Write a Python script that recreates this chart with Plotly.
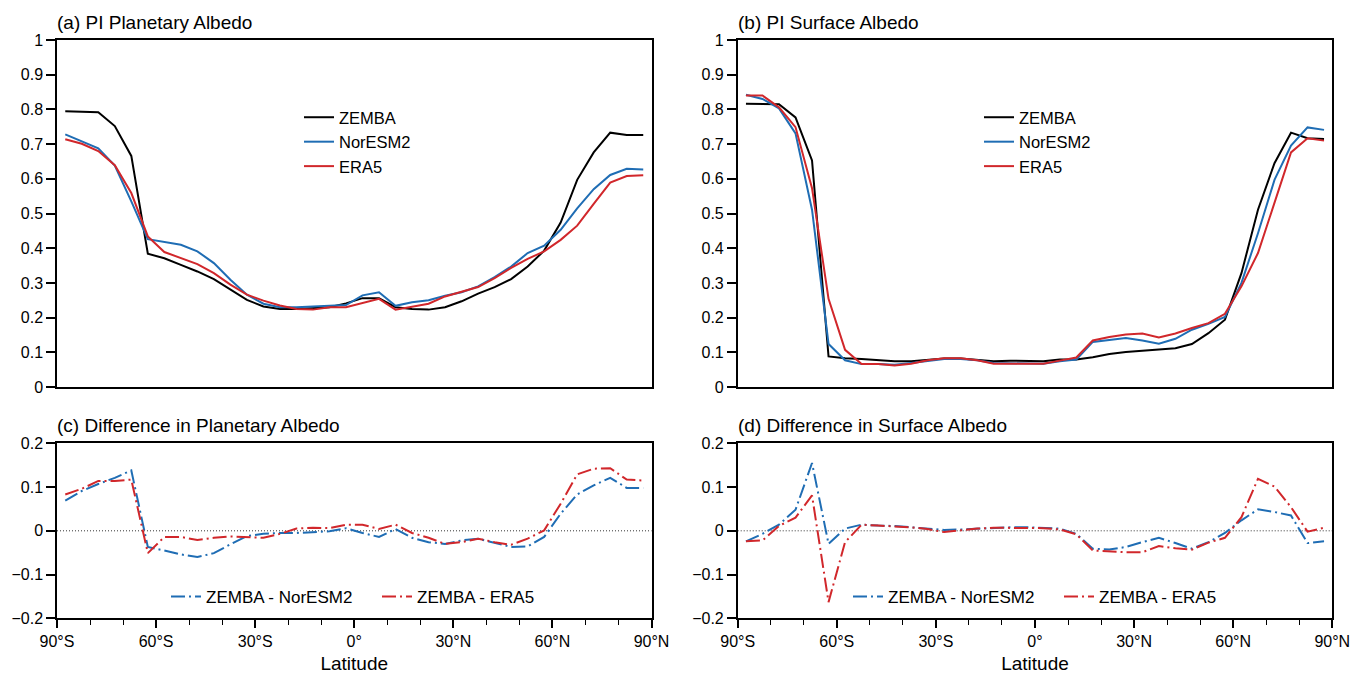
import plotly.graph_objects as go

lat = [-87.5, -82.5, -77.5, -72.5, -67.5, -62.5, -57.5, -52.5, -47.5, -42.5, -37.5, -32.5,
       -27.5, -22.5, -17.5, -12.5, -7.5, -2.5, 2.5, 7.5, 12.5, 17.5, 22.5, 27.5,
       32.5, 37.5, 42.5, 47.5, 52.5, 57.5, 62.5, 67.5, 72.5, 77.5, 82.5, 87.5]

# (a) planetary albedo
pa_zemba = [0.795, 0.794, 0.792, 0.752, 0.666, 0.384, 0.371, 0.352, 0.333, 0.311, 0.282, 0.251,
            0.232, 0.225, 0.225, 0.228, 0.230, 0.241, 0.256, 0.256, 0.230, 0.225, 0.223, 0.230,
            0.247, 0.269, 0.288, 0.311, 0.347, 0.393, 0.474, 0.597, 0.676, 0.733, 0.726, 0.726]
pa_noresm = [0.728, 0.707, 0.688, 0.638, 0.535, 0.426, 0.419, 0.410, 0.391, 0.357, 0.309, 0.266,
             0.240, 0.230, 0.230, 0.232, 0.232, 0.236, 0.264, 0.273, 0.234, 0.244, 0.250, 0.263,
             0.273, 0.290, 0.317, 0.347, 0.386, 0.407, 0.453, 0.515, 0.570, 0.611, 0.629, 0.627]
pa_era5 = [0.714, 0.701, 0.680, 0.639, 0.559, 0.434, 0.389, 0.371, 0.354, 0.328, 0.295, 0.266,
           0.249, 0.235, 0.225, 0.223, 0.230, 0.230, 0.242, 0.254, 0.223, 0.232, 0.240, 0.261,
           0.275, 0.288, 0.314, 0.343, 0.369, 0.391, 0.424, 0.465, 0.528, 0.589, 0.608, 0.610]

# (b) surface albedo
sa_zemba = [0.816, 0.816, 0.815, 0.777, 0.653, 0.088, 0.083, 0.081, 0.077, 0.074, 0.074, 0.079,
            0.082, 0.082, 0.079, 0.074, 0.076, 0.076, 0.074, 0.079, 0.079, 0.086, 0.095, 0.101,
            0.105, 0.107, 0.112, 0.124, 0.155, 0.194, 0.328, 0.511, 0.645, 0.733, 0.717, 0.715]
sa_noresm = [0.842, 0.830, 0.803, 0.731, 0.511, 0.124, 0.077, 0.066, 0.066, 0.064, 0.069, 0.076,
             0.081, 0.081, 0.077, 0.069, 0.069, 0.069, 0.067, 0.074, 0.079, 0.130, 0.136, 0.141,
             0.134, 0.125, 0.139, 0.165, 0.182, 0.202, 0.300, 0.443, 0.597, 0.696, 0.748, 0.741]
sa_era5 = [0.840, 0.840, 0.806, 0.749, 0.573, 0.254, 0.107, 0.066, 0.066, 0.062, 0.067, 0.077,
           0.083, 0.083, 0.077, 0.067, 0.067, 0.067, 0.067, 0.076, 0.085, 0.134, 0.144, 0.151,
           0.154, 0.143, 0.154, 0.170, 0.184, 0.211, 0.290, 0.386, 0.530, 0.676, 0.717, 0.710]

# (c) difference in planetary albedo
dp_noresm = [0.069, 0.091, 0.107, 0.121, 0.138, -0.037, -0.045, -0.054, -0.060, -0.051, -0.031, -0.012,
             -0.007, -0.005, -0.005, -0.003, -0.001, 0.006, -0.005, -0.014, 0.004, -0.016, -0.026, -0.030,
             -0.022, -0.018, -0.028, -0.037, -0.036, -0.014, 0.039, 0.083, 0.104, 0.121, 0.098, 0.098]
dp_era5 = [0.083, 0.096, 0.114, 0.114, 0.117, -0.051, -0.014, -0.014, -0.021, -0.016, -0.013, -0.014,
           -0.016, -0.007, 0.005, 0.007, 0.006, 0.014, 0.014, 0.004, 0.014, -0.005, -0.016, -0.030,
           -0.026, -0.018, -0.026, -0.032, -0.018, 0.001, 0.062, 0.129, 0.142, 0.143, 0.117, 0.115]

# (d) difference in surface albedo
ds_noresm = [-0.024, -0.007, 0.014, 0.048, 0.155, -0.030, 0.005, 0.014, 0.012, 0.011, 0.008, 0.005,
             0.002, 0.003, 0.005, 0.007, 0.008, 0.008, 0.007, 0.005, -0.007, -0.041, -0.043, -0.037,
             -0.026, -0.016, -0.028, -0.041, -0.026, -0.005, 0.024, 0.049, 0.043, 0.035, -0.028, -0.024]
ds_era5 = [-0.024, -0.022, 0.011, 0.030, 0.081, -0.163, -0.026, 0.014, 0.012, 0.010, 0.008, 0.004,
           -0.003, 0.001, 0.005, 0.007, 0.007, 0.007, 0.006, 0.003, -0.008, -0.045, -0.047, -0.049,
           -0.049, -0.035, -0.040, -0.043, -0.027, -0.016, 0.031, 0.119, 0.101, 0.054, -0.002, 0.007]

xtick_vals = [-90, -60, -30, 0, 30, 60, 90]
xtick_text = ["90°S", "60°S", "30°S", "0°", "30°N", "60°N", "90°N"]
ytick_top = [0, 0.1, 0.2, 0.3, 0.4, 0.5, 0.6, 0.7, 0.8, 0.9, 1]
ytick_top_text = ["0", "0.1", "0.2", "0.3", "0.4", "0.5", "0.6", "0.7", "0.8", "0.9", "1"]
ytick_bot = [-0.2, -0.1, 0, 0.1, 0.2]

BLACK = "#000000"
BLUE = "#1f6db4"
RED = "#d1272b"
FONT = "Liberation Sans, Arial, sans-serif"
DASHDOT = "14px,4px,2px,4px"

fig = go.Figure()

def add(x, y, name, color, xa, ya, legend, dash="solid"):
    fig.add_trace(go.Scatter(x=x, y=y, name=name, mode="lines",
                             line=dict(color=color, width=2, dash=dash),
                             xaxis=xa, yaxis=ya, legend=legend))

add(lat, pa_zemba, "ZEMBA", BLACK, "x", "y", "legend")
add(lat, pa_noresm, "NorESM2", BLUE, "x", "y", "legend")
add(lat, pa_era5, "ERA5", RED, "x", "y", "legend")
add(lat, sa_zemba, "ZEMBA", BLACK, "x2", "y2", "legend2")
add(lat, sa_noresm, "NorESM2", BLUE, "x2", "y2", "legend2")
add(lat, sa_era5, "ERA5", RED, "x2", "y2", "legend2")
add(lat, dp_noresm, "ZEMBA - NorESM2", BLUE, "x3", "y3", "legend3", DASHDOT)
add(lat, dp_era5, "ZEMBA - ERA5", RED, "x3", "y3", "legend3", DASHDOT)
add(lat, ds_noresm, "ZEMBA - NorESM2", BLUE, "x4", "y4", "legend4", DASHDOT)
add(lat, ds_era5, "ZEMBA - ERA5", RED, "x4", "y4", "legend4", DASHDOT)

W, H = 1352, 674
xl = [57 / W, 651.5 / W]
xr = [737.7 / W, 1332.3 / W]
yt = [1 - 387 / H, 1 - 40 / H]
yb = [1 - 618.3 / H, 1 - 443.3 / H]

axis_common = dict(showline=True, linecolor="black", linewidth=1.5, mirror=True, automargin=False,
                   showgrid=False, zeroline=False, tickfont=dict(size=16, color="black", family=FONT),
                   ticks="outside", tickcolor="black", tickwidth=1.5)

def xaxis(domain, anchor, bottom):
    d = dict(axis_common, domain=domain, anchor=anchor, range=[-90, 90])
    if bottom:
        d.update(tickmode="array", tickvals=xtick_vals, ticktext=xtick_text, ticklen=8,
                 minor=dict(tickmode="array", tickvals=list(range(-80, 90, 10)), ticklen=5,
                            ticks="outside", tickcolor="black", tickwidth=1.2),
                 title=dict(text="Latitude", font=dict(size=19, color="black", family=FONT), standoff=8))
    else:
        d.update(ticks="", showticklabels=False)
    return d

def yaxis(domain, anchor, top):
    d = dict(axis_common, domain=domain, anchor=anchor, ticklen=9)
    if top:
        d.update(range=[0, 1], tickmode="array", tickvals=ytick_top, ticktext=ytick_top_text)
    else:
        d.update(range=[-0.2, 0.2], tickmode="array", tickvals=ytick_bot)
    return d

legend_top = dict(font=dict(size=16.5, color="black", family=FONT), bgcolor="rgba(0,0,0,0)",
                  xanchor="left", yanchor="top", tracegroupgap=0, itemwidth=30)
legend_bot = dict(font=dict(size=17, color="black", family=FONT), bgcolor="rgba(0,0,0,0)",
                  orientation="h", xanchor="left", yanchor="middle", itemwidth=30,
                  entrywidth=166, entrywidthmode="pixels")

fig.update_layout(
    width=W, height=H,
    template="none",
    margin=dict(l=0, r=0, t=0, b=0, autoexpand=False),
    paper_bgcolor="white", plot_bgcolor="white",
    font=dict(family=FONT, color="black"),
    xaxis=xaxis(xl, "y", False), yaxis=yaxis(yt, "x", True),
    xaxis2=xaxis(xr, "y2", False), yaxis2=yaxis(yt, "x2", True),
    xaxis3=xaxis(xl, "y3", True), yaxis3=yaxis(yb, "x3", False),
    xaxis4=xaxis(xr, "y4", True), yaxis4=yaxis(yb, "x4", False),
    legend=dict(legend_top, x=299 / W, y=1 - 100 / H),
    legend2=dict(legend_top, x=979 / W, y=1 - 100 / H),
    legend3=dict(legend_bot, x=166 / W, y=1 - 597 / H),
    legend4=dict(legend_bot, x=848 / W, y=1 - 597 / H),
    showlegend=True,
)

for xr_, yr_ in (("x3", "y3"), ("x4", "y4")):
    fig.add_shape(type="line", xref=xr_ + " domain", x0=0, x1=1, yref=yr_, y0=0, y1=0,
                  line=dict(color="black", width=0.8, dash="1px,2px"), layer="below")

titles = ["(a) PI Planetary Albedo", "(b) PI Surface Albedo",
          "(c) Difference in Planetary Albedo", "(d) Difference in Surface Albedo"]
pos = [(xl[0], yt[1]), (xr[0], yt[1]), (xl[0], yb[1]), (xr[0], yb[1])]
for t, (px, py) in zip(titles, pos):
    fig.add_annotation(text=t, x=px, y=py, xref="paper", yref="paper", xanchor="left",
                       yanchor="bottom", showarrow=False, yshift=5, xshift=-2,
                       font=dict(size=19, color="black", family=FONT))

fig.write_html("out.html")
